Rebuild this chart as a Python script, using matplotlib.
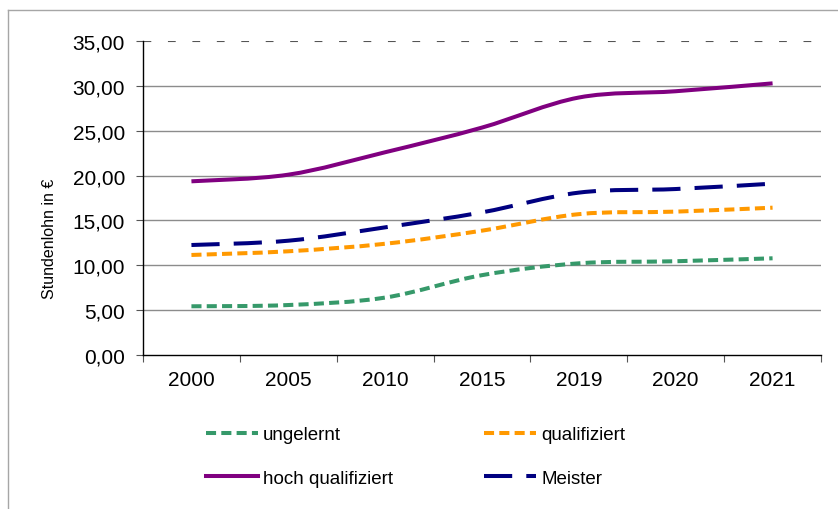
import matplotlib
matplotlib.use("Agg")
import matplotlib.pyplot as plt
from matplotlib.path import Path
from matplotlib.patches import PathPatch
from matplotlib.lines import Line2D
import numpy as np

plt.rcParams['font.family'] = ['Liberation Sans', 'DejaVu Sans']

years = ["2000", "2005", "2010", "2015", "2019", "2020", "2021"]
ungelernt = [5.43, 5.57, 6.40, 8.90, 10.22, 10.45, 10.78]
qualifiziert = [11.15, 11.56, 12.40, 13.86, 15.70, 15.98, 16.42]
hoch_qualifiziert = [19.36, 20.10, 22.60, 25.35, 28.70, 29.40, 30.28]
meister = [12.26, 12.74, 14.23, 15.90, 18.10, 18.50, 19.10]
y_ticks = [0, 5, 10, 15, 20, 25, 30, 35]

series = [
    ("ungelernt", ungelernt, "#36996a", (0, (2.5, 1.3))),
    ("qualifiziert", qualifiziert, "#ff9900", (0, (2.5, 1.3))),
    ("hoch qualifiziert", hoch_qualifiziert, "#800080", "solid"),
    ("Meister", meister, "#000080", (0, (7.0, 3.5))),
]


def smooth_path(xs, ys):
    pts = np.column_stack([xs, ys]).astype(float)
    n = len(pts)
    verts = [pts[0]]
    codes = [Path.MOVETO]
    for i in range(n - 1):
        p0 = pts[i - 1] if i > 0 else pts[i]
        p1 = pts[i]
        p2 = pts[i + 1]
        p3 = pts[i + 2] if i + 2 < n else pts[i + 1]
        c1 = p1 + (p2 - p0) / 6.0
        c2 = p2 - (p3 - p1) / 6.0
        verts += [c1, c2, p2]
        codes += [Path.CURVE4] * 3
    return Path(verts, codes)


fig = plt.figure(figsize=(8.38, 5.10), dpi=100)
ax = fig.add_axes([143 / 838, 1 - 356 / 510, (821 - 143) / 838, (356 - 42) / 510])

x = np.arange(len(years))
handles = []
for name, vals, col, ls in series:
    p = smooth_path(x, vals)
    patch = PathPatch(p, facecolor="none", edgecolor=col, lw=2.9, linestyle=ls,
                      capstyle="butt", zorder=3)
    ax.add_patch(patch)
    handles.append(Line2D([], [], color=col, lw=2.9, linestyle=ls, label=name))

ax.set_xlim(-0.5, len(years) - 0.5)
ax.set_ylim(0, 35)

for v in y_ticks[1:-1]:
    ax.axhline(v, color="#8c8c8c", lw=1.0, zorder=1)
ax.axhline(35, color="#555555", lw=0.8, linestyle=(0, (7, 15)), zorder=1)

ax.spines["top"].set_visible(False)
ax.spines["right"].set_visible(False)
ax.spines["left"].set_color("black")
ax.spines["bottom"].set_color("black")
ax.spines["left"].set_linewidth(1.0)
ax.spines["bottom"].set_linewidth(1.0)

ax.set_yticks(y_ticks)
ax.set_yticklabels([f"{v:.2f}".replace(".", ",") for v in y_ticks], fontsize=15)
ax.set_xticks(x)
ax.set_xticklabels(years, fontsize=15)
ax.set_xticks(np.arange(-0.5, len(years)), minor=True)
ax.tick_params(axis="x", which="major", length=0, pad=11)
ax.tick_params(axis="x", which="minor", length=5, width=0.8, direction="out", color="#555555")
ax.tick_params(axis="y", length=5, width=0.8, direction="out", pad=8, color="#555555")
ax.set_ylabel("Stundenlohn in €", fontsize=11.5)
ax.yaxis.set_label_coords(-86 / 678, (356 - 239) / 314)

order = [0, 2, 1, 3]
leg = fig.legend([handles[i] for i in order], [handles[i].get_label() for i in order],
                 ncol=2, loc="center", bbox_to_anchor=(0.496, 0.103), frameon=False,
                 fontsize=13.5, handlelength=2.77, handletextpad=0.3, columnspacing=4.85,
                 labelspacing=1.4)

# outer frame (partially visible)
fig.add_artist(Line2D([8 / 838, 8 / 838], [0, 1 - 11 / 510], transform=fig.transFigure,
                      color="#a6a6a6", lw=1.0))
fig.add_artist(Line2D([8 / 838, 1], [1 - 11 / 510, 1 - 11 / 510], transform=fig.transFigure,
                      color="#a6a6a6", lw=1.0))

fig.savefig("out.png", dpi=100)
